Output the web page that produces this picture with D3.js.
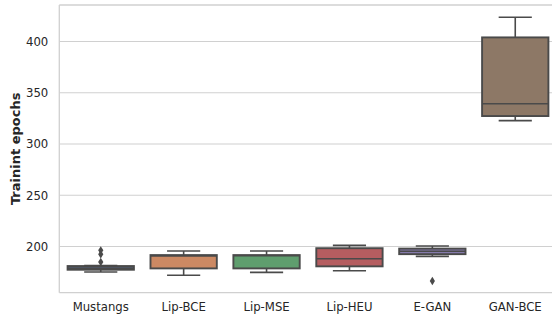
<!DOCTYPE html>
<html>
<head>
<meta charset="utf-8">
<script src="https://cdn.jsdelivr.net/npm/d3@7"></script>
<style>
  html, body { margin: 0; padding: 0; background: #ffffff; }
  svg { display: block; font-family: "DejaVu Sans", sans-serif; }
</style>
</head>
<body>
<div id="chart"></div>
<script>
// Training-epoch distributions per method (box summary statistics)
const categories = ["Mustangs", "Lip-BCE", "Lip-MSE", "Lip-HEU", "E-GAN", "GAN-BCE"];
const whiskerLow  = [175.2, 172.0, 174.8, 176.4, 190.4, 322.8];
const q1          = [177.4, 178.7, 178.7, 180.7, 192.6, 327.3];
const median      = [179.0, 190.8, 191.0, 188.1, 195.5, 339.3];
const q3          = [181.0, 191.7, 191.7, 198.4, 198.0, 404.0];
const whiskerHigh = [181.6, 195.6, 195.6, 201.2, 200.5, 423.6];
const outliers    = [[185.0, 192.5, 196.3], [], [], [], [166.4], []];
const yTicks = [200, 250, 300, 350, 400];
const colors = ["#5875a4", "#cc8963", "#5f9e6e", "#b55d60", "#857aab", "#8d7866"];

const width = 552, height = 320;
const margin = { left: 59.3, top: 5, bottom: 292.7, right: 556.7 };
const lineColor = "#4a4a4a";
const gridColor = "#d0d0d0";
const textColor = "#262626";

const svg = d3.select("#chart").append("svg")
  .attr("width", width).attr("height", height);

const x = d3.scaleBand().domain(categories).range([margin.left, margin.right]).padding(0);
const y = d3.scaleLinear().domain([155, 435.6]).range([margin.bottom, margin.top]);

// Horizontal grid
svg.append("g").selectAll("line").data(yTicks).join("line")
  .attr("x1", margin.left).attr("x2", margin.right)
  .attr("y1", d => y(d)).attr("y2", d => y(d))
  .attr("stroke", gridColor).attr("stroke-width", 1.1);

// Frame
const frame = svg.append("g").attr("stroke", gridColor).attr("stroke-width", 1.3);
frame.append("line").attr("x1", margin.left).attr("x2", margin.left).attr("y1", margin.top).attr("y2", margin.bottom);
frame.append("line").attr("x1", margin.left).attr("x2", margin.right).attr("y1", margin.bottom).attr("y2", margin.bottom);
frame.append("line").attr("x1", margin.left).attr("x2", margin.right).attr("y1", margin.top).attr("y2", margin.top);
frame.append("line").attr("x1", margin.right).attr("x2", margin.right).attr("y1", margin.top).attr("y2", margin.bottom);

// Y axis labels
const yAxis = d3.axisLeft(y).tickValues(yTicks).tickSize(0).tickPadding(11);
svg.append("g").attr("transform", `translate(${margin.left},0)`).call(yAxis)
  .call(g => g.select(".domain").remove())
  .call(g => g.selectAll("text").attr("fill", textColor)
    .attr("font-size", "11.7px").attr("font-family", "DejaVu Sans, sans-serif"));

// X axis labels
const xAxis = d3.axisBottom(x).tickSize(0).tickPadding(10);
svg.append("g").attr("transform", `translate(0,${margin.bottom})`).call(xAxis)
  .call(g => g.select(".domain").remove())
  .call(g => g.selectAll("text").attr("fill", textColor)
    .attr("font-size", "11.7px").attr("font-family", "DejaVu Sans, sans-serif"));

// Y axis title
svg.append("text")
  .attr("transform", `translate(19.5,${(margin.top + margin.bottom) / 2}) rotate(-90)`)
  .attr("text-anchor", "middle")
  .attr("font-size", "13px").attr("font-weight", "bold")
  .attr("fill", textColor)
  .text("Trainint epochs");

// Boxes
const bw = x.bandwidth() * 0.8;
const boxes = svg.append("g").selectAll("g").data(categories).join("g");

boxes.each(function(cat, i) {
  const g = d3.select(this);
  const cx = x(cat) + x.bandwidth() / 2;
  const capW = bw / 2;
  // whiskers
  g.append("line").attr("x1", cx).attr("x2", cx)
    .attr("y1", y(q3[i])).attr("y2", y(whiskerHigh[i]))
    .attr("stroke", lineColor).attr("stroke-width", 1.6);
  g.append("line").attr("x1", cx).attr("x2", cx)
    .attr("y1", y(q1[i])).attr("y2", y(whiskerLow[i]))
    .attr("stroke", lineColor).attr("stroke-width", 1.6);
  // caps
  [whiskerHigh[i], whiskerLow[i]].forEach(v => {
    g.append("line").attr("x1", cx - capW / 2).attr("x2", cx + capW / 2)
      .attr("y1", y(v)).attr("y2", y(v))
      .attr("stroke", lineColor).attr("stroke-width", 1.6);
  });
  // box
  g.append("rect")
    .attr("x", cx - bw / 2).attr("width", bw)
    .attr("y", y(q3[i])).attr("height", y(q1[i]) - y(q3[i]))
    .attr("fill", colors[i]).attr("stroke", lineColor).attr("stroke-width", 1.9);
  // median
  g.append("line").attr("x1", cx - bw / 2).attr("x2", cx + bw / 2)
    .attr("y1", y(median[i])).attr("y2", y(median[i]))
    .attr("stroke", lineColor).attr("stroke-width", 1.6);
  // fliers
  g.selectAll("path.flier").data(outliers[i]).join("path")
    .attr("class", "flier")
    .attr("d", "M0,-4.2L2.6,0L0,4.2L-2.6,0Z")
    .attr("transform", d => `translate(${cx},${y(d)})`)
    .attr("fill", lineColor);
});
</script>
</body>
</html>
